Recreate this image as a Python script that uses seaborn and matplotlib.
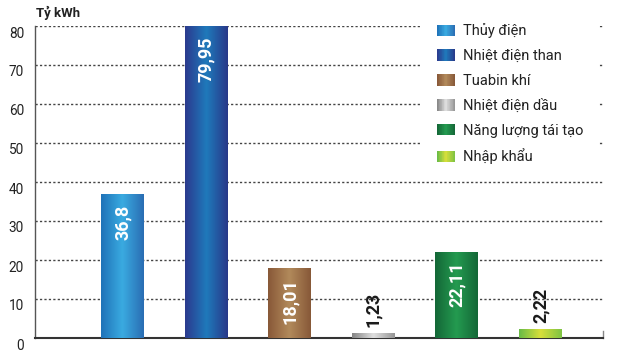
import matplotlib
matplotlib.use("Agg")
import matplotlib.pyplot as plt
import matplotlib.patches as mpatches
from matplotlib.colors import LinearSegmentedColormap
from matplotlib.legend_handler import HandlerBase
from matplotlib.transforms import ScaledTranslation
import seaborn as sns
import numpy as np
import pandas as pd

# data
sources = ["Thủy điện", "Nhiệt điện than", "Tuabin khí",
           "Nhiệt điện dầu", "Năng lượng tái tạo", "Nhập khẩu"]
values = [36.8, 79.95, 18.01, 1.23, 22.11, 2.22]
labels = ["36,8", "79,95", "18,01", "1,23", "22,11", "2,22"]
yticks = [0, 10, 20, 30, 40, 50, 60, 70, 80]

# left / centre / right colours of each bar's gradient
gradients = [
    ["#1f72b8", "#3aabe1", "#2a6db3"],
    ["#2b3a8e", "#1f7abb", "#283889"],
    ["#885838", "#b28a5b", "#875838"],
    ["#858585", "#e0e0e0", "#959595"],
    ["#146737", "#249b50", "#146737"],
    ["#68bb46", "#d8df3a", "#7ec343"],
]

sns.set_theme(style="white")
plt.rcParams["font.family"] = ["Roboto", "DejaVu Sans"]

df = pd.DataFrame({"source": sources, "value": values})

fig = plt.figure(figsize=(6.24, 3.57), dpi=100)
ax = fig.add_axes([34.7 / 624, 19 / 357, 568.6 / 624, 312 / 357])

sns.barplot(data=df, x="source", y="value", hue="source",
            palette=[g[0] for g in gradients], width=0.514,
            legend=False, ax=ax, saturation=1)

# paint the gradients over the bars
for p in ax.patches:
    idx = int(round(p.get_x() + p.get_width() / 2))
    cmap = LinearSegmentedColormap.from_list("g%d" % idx, gradients[idx])
    grad = np.linspace(0, 1, 128).reshape(1, -1)
    x0 = p.get_x()
    im = ax.imshow(grad, cmap=cmap, aspect="auto", interpolation="bicubic",
                   extent=[x0, x0 + p.get_width(), 0, p.get_height()], zorder=3)
    im.set_clip_path(p)
    p.set_edgecolor("none")

ax.set_xlim(-1.05, 5.75)
ax.set_ylim(0, 80)
ax.set_yticks(yticks)
ax.set_xticks([])
ax.set_xlabel("")
ax.set_ylabel("")

ax.set_axisbelow(True)
ax.yaxis.grid(True, color="#444444", linestyle=(0, (1.6, 1.6)), linewidth=1.0)
ax.xaxis.grid(False)

ax.spines["top"].set_visible(False)
ax.spines["left"].set_color("#555555")
ax.spines["left"].set_linewidth(1.0)
ax.spines["bottom"].set_color("#333333")
ax.spines["bottom"].set_linewidth(1.5)
ax.spines["right"].set_color("#888888")
ax.spines["right"].set_linewidth(1.0)
ax.spines["right"].set_bounds(0, 1.8)

ax.tick_params(axis="y", length=0, pad=7.7, labelsize=9.8, labelcolor="#222222")
off = ScaledTranslation(0, -6 / 100, fig.dpi_scale_trans)
for t in ax.get_yticklabels():
    t.set_transform(t.get_transform() + off)

# value labels
for i, (v, lab) in enumerate(zip(values, labels)):
    if v > 10:
        ax.annotate(lab, xy=(i, v), xytext=(0, -7.2), textcoords="offset points",
                    rotation=90, ha="center", va="top", color="white",
                    fontsize=13, fontweight="bold", zorder=5)
    else:
        ax.annotate(lab, xy=(i, v), xytext=(0, 4.5), textcoords="offset points",
                    rotation=90, ha="center", va="bottom", color="#1a1a1a",
                    fontsize=13, fontweight="bold", zorder=5)

fig.text(36 / 624, 1 - 13 / 357, "Tỷ kWh", fontsize=9.5, fontweight="bold",
         color="#222222", va="center", ha="left")


# legend with gradient swatches
class GradientHandler(HandlerBase):
    def __init__(self, colors):
        super().__init__()
        self.colors = colors

    def create_artists(self, legend, orig_handle, xdescent, ydescent,
                       width, height, fontsize, trans):
        cmap = LinearSegmentedColormap.from_list("h", self.colors)
        n = 24
        arts = []
        for k in range(n):
            r = mpatches.Rectangle((-xdescent + width * k / n, -ydescent),
                                   width / n * 1.05, height,
                                   facecolor=cmap((k + 0.5) / n),
                                   edgecolor="none", transform=trans)
            arts.append(r)
        return arts


handles = [mpatches.Patch(label=s) for s in sources]
hmap = {h: GradientHandler(g) for h, g in zip(handles, gradients)}
leg = fig.legend(handles=handles, labels=sources, handler_map=hmap,
                 loc="upper left", bbox_to_anchor=(422 / 624, 1 - 8.4 / 357),
                 bbox_transform=fig.transFigure, borderaxespad=0,
                 fontsize=10.5, frameon=True, fancybox=False, framealpha=1,
                 edgecolor="white", facecolor="white", borderpad=1.03,
                 handlelength=1.23, handleheight=0.82, handletextpad=0.55,
                 labelspacing=0.74)
for t in leg.get_texts():
    t.set_color("#222222")

fig.savefig("out.png", dpi=100)
